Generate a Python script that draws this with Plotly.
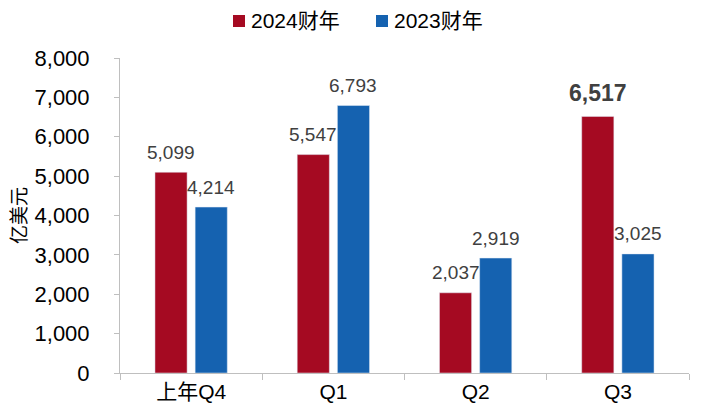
import plotly.graph_objects as go

categories = ["上年Q4", "Q1", "Q2", "Q3"]
fy2024 = [5099, 5547, 2037, 6517]
fy2023 = [4214, 6793, 2919, 3025]
y_ticks = [0, 1000, 2000, 3000, 4000, 5000, 6000, 7000, 8000]
series_names = ["2024财年", "2023财年"]
highlight = ("2024财年", 3)

font_main = "Liberation Sans, Arial, Noto Sans CJK SC, sans-serif"
RED = "#A50A22"
BLUE = "#1562B0"

W, H = 701, 414
ML, MR, MT, MB = 120, 12, 58, 41
PW, PH = W - ML - MR, H - MT - MB

fig = go.Figure()
fig.add_trace(go.Bar(name=series_names[0], x=categories, y=fy2024, marker_color=RED, showlegend=False))
fig.add_trace(go.Bar(name=series_names[1], x=categories, y=fy2023, marker_color=BLUE, showlegend=False))

# value labels
for name, vals, shift in [(series_names[0], fy2024, -20), (series_names[1], fy2023, 20)]:
    for i, (c, v) in enumerate(zip(categories, vals)):
        bold = (name, i) == highlight
        fig.add_annotation(
            x=c, y=v, xref="x", yref="y", xshift=shift, yshift=23 if bold else 20,
            text=f"<b>{v:,}</b>" if bold else f"{v:,}",
            showarrow=False, yanchor="middle", xanchor="center",
            font=dict(size=23 if bold else 19, color="#404040", family=font_main),
        )

# legend (drawn manually at top centre)
def px_x(px):
    return (px - ML) / PW

def px_y(py):
    return (H - MB - py) / PH

for name, color, sq_left in [(series_names[0], RED, 233), (series_names[1], BLUE, 376)]:
    fig.add_shape(type="rect", xref="paper", yref="paper",
                  x0=px_x(sq_left), x1=px_x(sq_left + 12), y0=px_y(27), y1=px_y(15),
                  fillcolor=color, line=dict(width=0))
    fig.add_annotation(x=px_x(sq_left + 16), y=px_y(21), xref="paper", yref="paper",
                       text=name, showarrow=False, xanchor="left", yanchor="middle",
                       font=dict(size=21, family=font_main, color="#000000"))

fig.update_layout(
    width=W, height=H,
    margin=dict(l=ML, r=MR, t=MT, b=MB),
    paper_bgcolor="white", plot_bgcolor="white",
    barmode="group", bargap=0.435, bargroupgap=0.2,
    font=dict(family=font_main, color="#000000"),
    showlegend=False,
)

fig.update_xaxes(
    showline=True, linecolor="#BFBFBF", linewidth=1,
    ticks="outside", tickson="boundaries", ticklen=6, tickcolor="#BFBFBF",
    tickfont=dict(size=21, family=font_main, color="#000000"),
    ticklabelstandoff=0,
    showgrid=False,
)
fig.update_yaxes(
    range=[0, 8000], tickvals=y_ticks, tickformat=",",
    showline=True, linecolor="#BFBFBF", linewidth=1,
    ticks="outside", ticklen=5, tickcolor="#BFBFBF", ticklabelstandoff=20,
    tickfont=dict(size=22, family=font_main, color="#000000"),
    showgrid=False, zeroline=False,
    title=dict(text="亿美元", font=dict(size=19, family="Noto Sans CJK SC"), standoff=2),
)

fig.write_html("out.html")
